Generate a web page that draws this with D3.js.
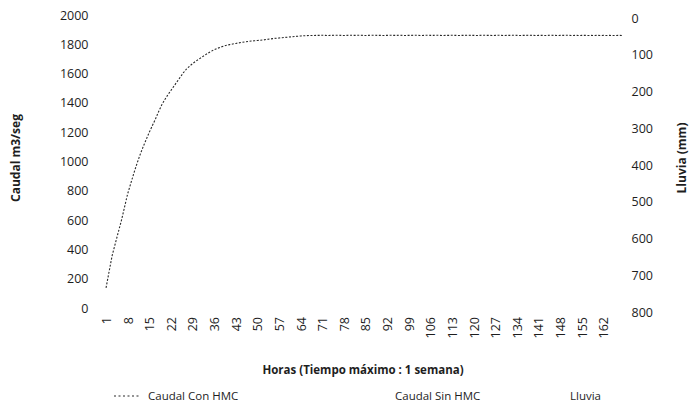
<!DOCTYPE html>
<html><head><meta charset="utf-8">
<script src="https://cdn.jsdelivr.net/npm/d3@7/dist/d3.min.js"></script>
<style>
body{margin:0;background:#fff}
svg{display:block}
text{font-family:"Open Sans","Noto Sans",sans-serif;fill:#1e1e1e}
</style></head>
<body><svg id="chart" width="699" height="411"></svg>
<script>
// ---- data ----
const hours = d3.range(1, 169); // 1..168 horas (1 semana)
const xTickLabels = [1,8,15,22,29,36,43,50,57,64,71,78,85,92,99,106,113,120,127,134,141,148,155,162];
const leftTicks = [0,200,400,600,800,1000,1200,1400,1600,1800,2000];
const rightTicks = [0,100,200,300,400,500,600,700,800];
const caudalConHMC = [
 137,250,360,440,520,600,690,780,850,920,
 985,1045,1100,1150,1200,1245,1290,1340,1385,1422,
 1455,1485,1515,1545,1575,1605,1630,1650,1668,1684,
 1698,1712,1726,1740,1752,1763,1772,1780,1787,1793,
 1798,1802,1806,1810,1813,1816,1819,1822,1824,1826,
 1828,1830,1833,1836,1839,1841,1843,1845,1847,1849,
 1851,1853,1855,1857,1858,1859,1860,
 1860,1861,1861,1862,1861,1860,1861,1862,1862,1861,
 1860,1861,1862,1861,1861,1862,1861,1860,1861,1862,
 1862,1861,1861,1860,1861,1862,1861,1861,1862,1861,
 1860,1861,1861,1862,1861,1860,1861,1862,1861,1861,
 1862,1861,1860,1861,1861,1862,1861,1860,1861,1861,
 1862,1861,1861,1860,1861,1862,1861,1861,1860,1861,
 1862,1861,1860,1861,1861,1862,1861,1860,1861,1861,
 1862,1861,1860,1861,1861,1860,1861,1862,1861,1860,
 1861,1861,1862,1861,1860,1861,1860,1861,1861,1860,
 1861,1860,1861,1860,1861,1860,1861,1860,1860,1861,1860
];
const legendLabels = ["Caudal Con HMC","Caudal Sin HMC","Lluvia"];
const xTitle = "Horas (Tiempo máximo : 1 semana)";
const yLeftTitle = "Caudal m3/seg";
const yRightTitle = "Lluvia (mm)";

// ---- layout ----
const svg = d3.select("#chart");
const plot = {left:104.5, right:623.5, top:16, bottom:309};

const x = d3.scalePoint().domain(hours).range([plot.left, plot.right]).padding(0.5);
const yL = d3.scaleLinear().domain([0,2000]).range([plot.bottom-1, plot.top-1]);
const yR = d3.scaleLinear().domain([0,800]).range([plot.top+2, plot.bottom+3]);

// left axis
const axL = svg.append("g").attr("transform",`translate(${plot.left},0)`)
  .call(d3.axisLeft(yL).tickValues(leftTicks).tickFormat(d3.format("d")).tickSize(0).tickPadding(16));
axL.select(".domain").remove();
axL.selectAll("text").style("font-size","12.5px").attr("fill","#1e1e1e");

// right axis
const axR = svg.append("g").attr("transform",`translate(${plot.right},0)`)
  .call(d3.axisRight(yR).tickValues(rightTicks).tickFormat(d3.format("d")).tickSize(0).tickPadding(8));
axR.select(".domain").remove();
axR.selectAll("text").style("font-size","12.5px").attr("fill","#1e1e1e");

// x axis (rotated labels)
const axX = svg.append("g").attr("transform",`translate(0,${plot.bottom})`)
  .call(d3.axisBottom(x).tickValues(xTickLabels).tickSize(0).tickPadding(0));
axX.select(".domain").remove();
axX.selectAll("text")
  .style("font-size","12.5px").attr("fill","#1e1e1e")
  .attr("text-anchor","end")
  .attr("transform","translate(0,8) rotate(-90)")
  .attr("x",0).attr("y",0).attr("dy","0.35em");

// line
const line = d3.line().x((d,i)=>x(hours[i])).y(d=>yL(d));
svg.append("path").datum(caudalConHMC)
  .attr("d",line).attr("fill","none")
  .attr("stroke","#2a2a2a").attr("stroke-width",1.1)
  .attr("stroke-dasharray","2,1.6");

// titles
svg.append("text").attr("transform","translate(20,158) rotate(-90)")
  .attr("text-anchor","middle").style("font-size","12px").style("font-weight","bold").text(yLeftTitle);
svg.append("text").attr("transform","translate(686,158) rotate(-90)")
  .attr("text-anchor","middle").style("font-size","12px").style("font-weight","bold").text(yRightTitle);
svg.append("text").attr("x",363).attr("y",374)
  .attr("text-anchor","middle").style("font-size","11.5px").style("font-weight","bold").text(xTitle);

// legend
const legX = [148, 395, 570];
const leg = svg.append("g");
leg.append("line").attr("x1",114).attr("x2",140).attr("y1",396).attr("y2",396)
  .attr("stroke","#2a2a2a").attr("stroke-width",1.1).attr("stroke-dasharray","2,2.5");
leg.selectAll("text.lg").data(legendLabels).join("text")
  .attr("class","lg").attr("x",(d,i)=>legX[i]).attr("y",400)
  .style("font-size","11.5px").text(d=>d);
</script></body></html>
